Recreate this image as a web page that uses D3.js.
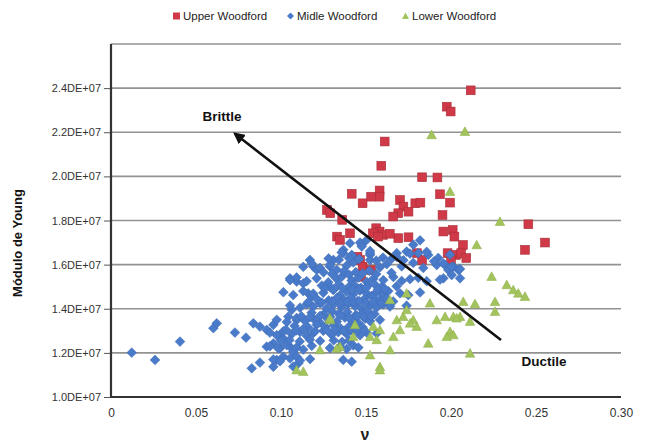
<!DOCTYPE html>
<html><head><meta charset="utf-8">
<script src="https://cdn.jsdelivr.net/npm/d3@7"></script>
<style>body{margin:0;background:#fff}svg{display:block}text{font-family:"Liberation Sans",Arial,sans-serif}</style>
</head><body>
<script>
// ---------- DATA (ν, Young's modulus in units of 1e6) ----------
const seriesNames = ["Upper Woodford", "Midle Woodford", "Lower Woodford"];
const xTicks = [0, 0.05, 0.10, 0.15, 0.20, 0.25, 0.30];
const xTickLabels = ["0", "0.05", "0.10", "0.15", "0.20", "0.25", "0.30"];
const yTicks = [10, 12, 14, 16, 18, 20, 22, 24];
const yTickLabels = ["1.0DE+07","1.2DE+07","1.4DE+07","1.6DE+07","1.8DE+07","2.0DE+07","2.2DE+07","2.4DE+07"];
const yGrid = [12, 14, 16, 18, 20, 22, 24, 26];

const upperV = [.2116,.1975,.1998,.161,.159,.183,.192,.1416,.158,.158,.153,.148,.1935,.1994,.170,.172,.175,.179,.182,.169,.195,.166,.127,.129,.136,.156,.158,.154,.160,.157,.1406,.133,.169,.175,.1955,.201,.202,.207,.198,.203,.206,.145,.2455,.2553,.2435,.1465,.148,.153,.147,.180,.183,.1347,.164,.209,.200];
const upperE = [23.9,23.16,22.94,21.58,20.48,19.96,19.95,19.21,19.36,19.08,19.08,18.78,19.19,18.81,18.93,18.63,18.40,18.78,18.81,18.33,18.25,18.18,18.48,18.33,18.03,17.65,17.50,17.42,17.35,17.27,17.42,17.27,17.20,17.24,17.50,17.57,17.27,16.89,16.52,16.44,16.52,16.36,17.83,17.00,16.67,16.21,15.91,15.76,15.45,16.52,16.21,17.12,17.40,16.30,16.20];

const midleV = [.0122,.0259,.0406,.0602,.0622,.0729,.0794,.0837,.0876,.0916,.0955,.0828,.0876,.0955,.0994,.1014,
 .0916,.0955,.0994,.1014,.0975,.1053,.1072,.1092,.1102,.1072,.1043,.1063,.1092,.1053,.1092,.1131,.117,.119,.121,.116,.118,.1308,.1288,.1328,.1367,.1406,.1504,.1475,.1416,.1435,.1524,.1524,
 .1366,.1465,.1475,.1524,.1681,.1739,.1778,.1818,.1808,.1866,
 .1965,.1984,.2014,.2043,.1955,.2053,.2004,
 .1357,.1416,.1524,.1681,.1759,.1857,.1925,.1994,
 .1131,.1181,.1229,.1288,.1386,.1425,.1582,.1622,.1710,.1778,.1837,.1916,.1955,.2004,.2053,
 .1053,.1092,.1151,.1210,.1278,.1328,.1357,.1416,.1455,.1504,.1543,.1602,.1661,.1710,.1759,.1808,.1857,.1935,
 .1014,.1072,.1131,.1190,.1249,.1308,.1347,.1386,.1425,.1465,.1504,.1533,.1563,.1602,.1631,.1700,.1749,.1818,
 .1053,.1112,.1151,.1190,.1229,.1269,.1308,.1357,.1396,.1435,.1475,.1524,.1563,.1602,.1641,.1739,
 .0975,.1034,.1092,.1141,.1190,.1229,.1278,.1328,.1376,.1416,.1455,.1494,.1524,.1582,
 .0935,.0975,.1014,.1063,.1112,.1151,.1190,.1249,.1298,.1337,.1386,.1425,.1465,.1504,.1563,
 .0935,.0984,.1034,.1092,.1131,.1181,.1288,.1347,.1386,.1425,.1455,
 .0955,.0994,.1053,.1112,.1171,.1366,.1416,
 .1250,.1300,.1370,.1400,.1440,.1480,.1520,.1560,.1650,
 .1240,.1290,.1340,.1400,.1430,.1470,.1510,.1550,.1590,.1680,
 .1210,.1280,.1330,.1370,.1410,.1450,.1490,.1540,.1580,.1620,
 .1180,.1250,.1300,.1340,.1390,.1440,.1480,.1510,.1550,
 .1080,.1160,.1210,.1260,.1310,.1350,.1400,.1440,.1480,
 .1280,.1340,.1400,.1460,.1560,.1600,.1650,.1720,.1900,
 .1260,.1310,.1360,.1420,.1460,.1500,.1570,.1610,
 .1160,.1240,.1300,.1350,.1390,.1430,.1460,.1500,.1540,.1590,.1660,
 .1120,.1170,.1230,.1290,.1350,.1400,.1450,.1490,.1530,
 .1030,.1090,.1130,.1200,.1270,.1320,.1370,.1410,.1450,.1490,
 .1000,.1050,.1110,.1170,.1230,.1310,.1360,.1400];
const midleE = [12.01,11.68,12.51,13.12,13.34,12.92,12.69,13.34,13.19,13.04,13.27,11.30,11.56,11.37,12.80,12.65,
 12.28,12.43,12.21,11.83,11.68,12.28,12.05,11.83,11.53,11.38,13.64,13.95,13.49,15.38,15.23,15.15,16.21,15.91,15.76,14.70,14.55,16.21,15.91,15.76,16.67,16.97,17.12,16.90,16.44,16.21,16.44,16.21,
 16.52,17.00,16.82,16.52,16.52,16.59,16.90,17.10,16.52,16.44,
 15.99,15.76,15.91,15.76,15.38,15.38,15.53,
 16.55,16.40,16.62,16.35,16.50,16.58,16.30,16.45,
 15.90,16.05,15.85,16.00,15.95,16.10,15.88,16.02,15.92,16.08,15.85,15.98,16.05,15.90,15.80,
 15.30,15.42,15.25,15.38,15.20,15.35,15.45,15.28,15.40,15.22,15.36,15.30,15.44,15.26,15.34,15.40,15.25,15.32,
 14.75,14.62,14.80,14.68,14.72,14.85,14.60,14.78,14.66,14.82,14.70,14.58,14.76,14.64,14.80,14.70,14.62,14.74,
 14.15,14.05,14.20,14.10,14.25,14.02,14.18,14.08,14.22,14.12,14.00,14.16,14.06,14.20,14.10,14.14,
 13.50,13.40,13.58,13.45,13.55,13.38,13.52,13.42,13.60,13.48,13.35,13.55,13.44,13.50,
 12.92,12.80,12.98,12.85,12.95,12.78,12.90,13.00,12.82,12.94,12.86,12.98,12.80,12.92,12.88,
 12.30,12.20,12.35,12.25,12.15,12.32,12.22,12.28,12.18,12.34,12.24,
 11.70,11.62,11.75,11.65,11.72,11.68,11.60,
 15.65,15.58,15.70,15.55,15.66,15.60,15.72,15.57,15.63,
 15.05,14.98,15.10,15.00,15.08,14.95,15.04,15.12,14.98,15.02,
 14.45,14.38,14.50,14.40,14.48,14.35,14.44,14.52,14.40,14.46,
 13.82,13.75,13.88,13.78,13.85,13.72,13.80,13.90,13.76,
 13.22,13.15,13.28,13.18,13.25,13.12,13.20,13.30,13.16,
 16.28,16.22,16.30,16.25,16.18,16.32,16.26,16.20,16.15,
 14.92,14.88,14.95,14.86,14.90,14.94,14.87,14.91,
 14.30,14.28,14.34,14.26,14.32,14.29,14.35,14.27,14.31,14.25,14.33,
 13.66,13.62,13.68,13.64,13.70,13.60,13.67,13.63,13.65,
 13.05,13.02,13.08,12.98,13.04,13.06,13.00,13.07,13.03,13.01,
 12.55,12.58,12.52,12.60,12.54,12.57,12.50,12.56];

const lowerV = [.1886,.2082,.1994,.2151,.2288,.2239,.2328,.2366,.2396,.2435,.2072,.2141,.2259,.2259,.1965,.2014,.2053,.2112,.1994,.2014,.1975,.2112,.1739,.1876,.1916,.2033,.1866,.1778,.1798,.1759,.1681,.1719,.1700,.1661,.1582,.1543,.1524,.1563,.1641,.1582,.1524,.1347,.1288,.1328,.1229,.1092,.1131,.1739,.1425,.1288,.1582,.1435,.1641];
const lowerE = [21.88,22.03,19.31,16.89,17.95,15.46,15.08,14.85,14.70,14.55,14.32,14.22,14.32,13.87,13.64,13.64,13.64,13.42,12.96,12.81,12.73,11.98,14.70,14.25,13.49,13.57,12.43,13.49,13.19,13.34,13.49,13.64,13.04,12.73,13.04,13.19,12.73,12.59,12.13,11.37,11.90,12.28,13.49,12.20,12.13,11.22,11.15,13.95,12.73,13.57,11.22,13.27,14.40];

// annotation (data coordinates)
const arrowFrom = [0.2294, 12.58];
const arrowTo = [0.0729, 21.93];
const brittleAt = [0.0653, 22.74];
const ductileAt = [0.2547, 11.63];

// ---------- CHART ----------
const W = 647, H = 443;
const colors = {red:"#d03a48", redEdge:"#a82d38", blue:"#4a7bcb", blueEdge:"#3d68b0", green:"#a3c45c", greenEdge:"#8aab47"};
const svg = d3.select("body").append("svg").attr("width", W).attr("height", H);

const x = d3.scaleLinear().domain([0, 0.30]).range([111, 621]);
const y = d3.scaleLinear().domain([10, 26]).range([397, 44]);

// gridlines
svg.append("g").selectAll("line").data(yGrid).join("line")
  .attr("x1", x(0)).attr("x2", x(0.30))
  .attr("y1", d => y(d)).attr("y2", d => y(d))
  .attr("stroke", "#929292").attr("stroke-width", 1.6);

// y axis
const yAxis = d3.axisLeft(y).tickValues(yTicks).tickSize(7).tickPadding(3)
  .tickFormat((d, i) => yTickLabels[i]);
const gy = svg.append("g").attr("transform", `translate(${x(0)},0)`).call(yAxis);
gy.select(".domain").remove();
gy.selectAll(".tick line").attr("stroke", "#555").attr("stroke-width", 1);
gy.selectAll(".tick text").attr("font-size", 11).attr("fill", "#333")
  .attr("font-family", '"Liberation Sans",Arial,sans-serif');

// x axis
const xAxis = d3.axisBottom(x).tickValues(xTicks).tickSize(0).tickPadding(11)
  .tickFormat((d, i) => xTickLabels[i]);
const gx = svg.append("g").attr("transform", `translate(0,${y(10)})`).call(xAxis);
gx.select(".domain").remove();
gx.selectAll(".tick text").attr("font-size", 12).attr("fill", "#333")
  .attr("font-family", '"Liberation Sans",Arial,sans-serif');

// axis lines
svg.append("line").attr("x1", x(0)).attr("x2", x(0)).attr("y1", y(26)).attr("y2", y(10))
  .attr("stroke", "#333").attr("stroke-width", 2.2);
svg.append("line").attr("x1", x(0) - 1).attr("x2", x(0.30)).attr("y1", y(10)).attr("y2", y(10))
  .attr("stroke", "#333").attr("stroke-width", 2.2);

// markers
const sq = 4.4, dm = 4.9, tri = 4.8;
const upper = upperV.map((v, i) => [v, upperE[i]]);
const midle = midleV.map((v, i) => [v, midleE[i]]);
const lower = lowerV.map((v, i) => [v, lowerE[i]]);

svg.append("g").selectAll("rect").data(upper).join("rect")
  .attr("x", d => x(d[0]) - sq).attr("y", d => y(d[1]) - sq)
  .attr("width", sq * 2).attr("height", sq * 2)
  .attr("fill", colors.red).attr("stroke", colors.redEdge).attr("stroke-width", 0.6);

svg.append("g").selectAll("path").data(midle).join("path")
  .attr("d", d => { const cx = x(d[0]), cy = y(d[1]);
    return `M${cx},${cy - dm}L${cx + dm},${cy}L${cx},${cy + dm}L${cx - dm},${cy}Z`; })
  .attr("fill", colors.blue).attr("stroke", colors.blueEdge).attr("stroke-width", 0.5);

svg.append("g").selectAll("path").data(lower).join("path")
  .attr("d", d => { const cx = x(d[0]), cy = y(d[1]);
    return `M${cx},${cy - tri}L${cx + tri},${cy + tri * 0.8}L${cx - tri},${cy + tri * 0.8}Z`; })
  .attr("fill", colors.green).attr("stroke", colors.greenEdge).attr("stroke-width", 0.5);

// arrow
const defs = svg.append("defs");
defs.append("marker").attr("id", "ah").attr("viewBox", "0 0 10 10").attr("refX", 8).attr("refY", 5)
  .attr("markerWidth", 4.5).attr("markerHeight", 4.5).attr("orient", "auto")
  .append("path").attr("d", "M0,0L10,5L0,10Z").attr("fill", "#111");
svg.append("line")
  .attr("x1", x(arrowFrom[0])).attr("y1", y(arrowFrom[1]))
  .attr("x2", x(arrowTo[0])).attr("y2", y(arrowTo[1]))
  .attr("stroke", "#111").attr("stroke-width", 2.6).attr("marker-end", "url(#ah)");

svg.append("text").attr("x", x(brittleAt[0])).attr("y", y(brittleAt[1]) + 5)
  .attr("text-anchor", "middle").attr("font-size", 13.5).attr("font-weight", "bold").attr("fill", "#111")
  .text("Brittle");
svg.append("text").attr("x", x(ductileAt[0])).attr("y", y(ductileAt[1]) + 5)
  .attr("text-anchor", "middle").attr("font-size", 13.5).attr("font-weight", "bold").attr("fill", "#111")
  .text("Ductile");

// axis titles
svg.append("text").attr("transform", `translate(22,243) rotate(-90)`)
  .attr("text-anchor", "middle").attr("font-size", 13).attr("font-weight", "bold").attr("fill", "#111")
  .text("Módulo de Young");
svg.append("text").attr("x", 365).attr("y", 440)
  .attr("text-anchor", "middle").attr("font-size", 16).attr("font-weight", "bold").attr("fill", "#222")
  .attr("font-family", '"DejaVu Serif",serif')
  .text("ν");

// legend
const legendX = [173, 287, 402];
const lg = svg.append("g");
seriesNames.forEach((name, i) => {
  const lx = legendX[i], ly = 16;
  if (i === 0) lg.append("rect").attr("x", lx).attr("y", ly - 3.5).attr("width", 7).attr("height", 7).attr("fill", colors.red);
  if (i === 1) lg.append("path").attr("d", `M${lx + 3.5},${ly - 3.5}L${lx + 7},${ly}L${lx + 3.5},${ly + 3.5}L${lx},${ly}Z`).attr("fill", colors.blue);
  if (i === 2) lg.append("path").attr("d", `M${lx + 3.5},${ly - 3.5}L${lx + 7},${ly + 3}L${lx},${ly + 3}Z`).attr("fill", colors.green);
  lg.append("text").attr("x", lx + 10).attr("y", ly + 4).attr("font-size", 11.5).attr("fill", "#222").text(name);
});
</script>
</body></html>
